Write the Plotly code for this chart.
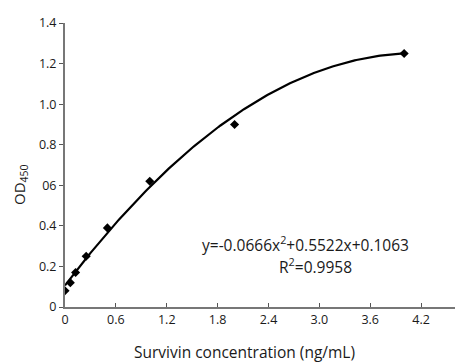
import numpy as np
import plotly.graph_objects as go

conc = [0, 0.0625, 0.125, 0.25, 0.5, 1.0, 2.0, 4.0]
od450 = [0.08, 0.12, 0.17, 0.25, 0.39, 0.62, 0.90, 1.25]
fit_coef = [-0.0666, 0.5522, 0.1063]  # a, b, c from the chart's equation
x_ticks = [0, 0.6, 1.2, 1.8, 2.4, 3.0, 3.6, 4.2]
x_labels = ["0", "0.6", "1.2", "1.8", "2.4", "3.0", "3.6", "4.2"]
y_ticks = [0, 0.2, 0.4, 0.6, 0.8, 1.0, 1.2, 1.4]
y_labels = ["0", "0.2", "0.4", "06", "0.8", "1.0", "1.2", "1.4"]

xf = np.linspace(min(conc), max(conc), 200)
yf = np.polyval(fit_coef, xf)

W, H = 461, 363
pl, pr, pt, pb = 65, 6, 23, 56
def px(xp): return (xp - pl) / (W - pl - pr)
def py(yp): return (H - pb - yp) / (H - pt - pb)

FONT = "Open Sans, Liberation Sans, sans-serif"
fig = go.Figure()
fig.add_trace(go.Scatter(x=xf, y=yf, mode="lines",
                         line=dict(color="black", width=2.2), hoverinfo="skip"))
fig.add_trace(go.Scatter(x=conc, y=od450, mode="markers",
                         marker=dict(symbol="diamond", size=7, color="black")))

fig.update_layout(
    width=W, height=H, showlegend=False,
    plot_bgcolor="white", paper_bgcolor="white",
    margin=dict(l=pl, r=pr, t=pt, b=pb, autoexpand=False),
    font=dict(family=FONT, size=12.5, color="#1a1a1a"),
    xaxis=dict(range=[0, 4.6], tickvals=x_ticks, ticktext=x_labels, automargin=False,
               showgrid=False, zeroline=False, showline=True, linecolor="#777",
               linewidth=2, ticks="inside", ticklen=4, tickcolor="#555"),
    yaxis=dict(range=[0, 1.4], tickvals=y_ticks, ticktext=y_labels, automargin=False,
               showgrid=False, zeroline=False, showline=True, linecolor="#777",
               linewidth=2, ticks="outside", ticklen=4, tickcolor="#555"),
    annotations=[
        dict(x=2.835, y=0.31, xref="x", yref="y", showarrow=False,
             xanchor="center", yanchor="middle",
             text="y=-0.0666x<sup>2</sup>+0.5522x+0.1063", font=dict(size=15.5)),
        dict(x=2.95, y=0.203, xref="x", yref="y", showarrow=False,
             xanchor="center", yanchor="middle",
             text="R<sup>2</sup>=0.9958", font=dict(size=15.5)),
        dict(x=px(244), y=py(352), xref="paper", yref="paper", showarrow=False,
             xanchor="center", yanchor="middle",
             text="Survivin concentration (ng/mL)", font=dict(size=15.5)),
        dict(x=px(20), y=py(185), xref="paper", yref="paper", showarrow=False,
             xanchor="center", yanchor="middle",
             text="OD<sub>450</sub>", textangle=-90, font=dict(size=15)),
    ],
)
fig.write_html("out.html", config={"displayModeBar": False},
               post_script="document.body.style.margin='0';document.body.style.padding='0';")
